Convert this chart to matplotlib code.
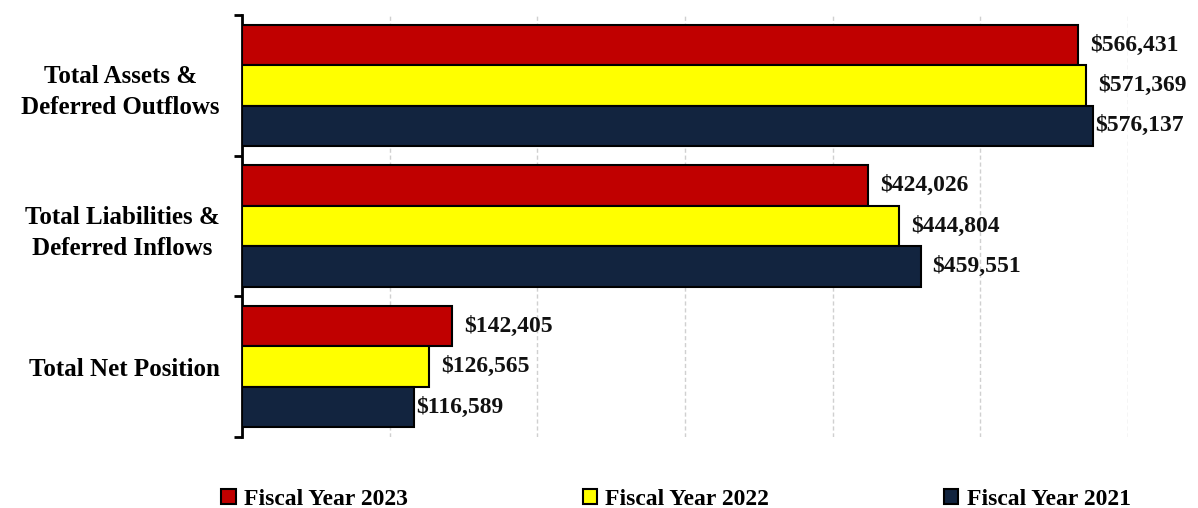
import matplotlib
matplotlib.use("Agg")
import matplotlib.pyplot as plt
import numpy as np

categories = ["Total Assets &\nDeferred Outflows", "Total Liabilities &\nDeferred Inflows", "Total Net Position"]
series_names = ["Fiscal Year 2023", "Fiscal Year 2022", "Fiscal Year 2021"]
fy2023 = [566431, 424026, 142405]
fy2022 = [571369, 444804, 126565]
fy2021 = [576137, 459551, 116589]
colors = ["#C00000", "#FFFF00", "#12243F"]

plt.rcParams['font.family'] = ['Liberation Serif', 'DejaVu Serif']
plt.rcParams['font.weight'] = 'bold'

fig = plt.figure(figsize=(11.98, 5.08), dpi=100)
ax = fig.add_axes([242/1198, 1-437/508, (1128-242)/1198, (437-15)/508])

y = np.arange(len(categories))
h = 0.287
series = [fy2023, fy2022, fy2021]
handles = []
for i, (vals, name, c) in enumerate(zip(series, series_names, colors)):
    b = ax.barh(y + (i - 1) * h, vals, height=h, color=c, edgecolor='black',
                linewidth=1.5, label=name, zorder=3)
    handles.append(b)
    for yy, v in zip(y + (i - 1) * h, vals):
        off = 2 if (i == 2 and v in (576137, 116589)) else 12
        ax.annotate(f"${v:,}", (v, yy), xytext=(off, 0), textcoords='offset pixels',
                    ha='left', va='center', fontsize=17, fontweight='bold', color='#111111')

ax.set_xlim(0, 600000)
ax.set_ylim(2.5, -0.5)
ax.set_xticks(np.arange(0, 600001, 100000))
ax.tick_params(axis='x', length=0, labelbottom=False)
ax.grid(axis='x', color='#d0d0d0', linestyle=(0, (3, 2)), linewidth=1, zorder=0)
ax.grid(axis='y', visible=False)

ax.set_yticks([-0.5, 0.5, 1.5, 2.5])
ax.set_yticklabels([])
ax.tick_params(axis='y', which='major', length=6, width=2, direction='out', color='black')
ax.set_yticks(y, minor=True)
ax.set_yticklabels(categories, minor=True, fontsize=18, fontweight='bold',
                   multialignment='center', linespacing=1.45)
ax.tick_params(axis='y', which='minor', length=0, pad=16)

for s in ['top', 'right', 'bottom']:
    ax.spines[s].set_visible(False)
ax.spines['left'].set_linewidth(2)

leg = fig.legend(handles=handles, labels=series_names, loc='lower left', ncol=3,
                 bbox_to_anchor=(212/1198, -0.022, (1140-212)/1198, 0.06), mode='expand',
                 frameon=False, fontsize=17, handlelength=0.6, handleheight=0.6,
                 handletextpad=0.35, borderaxespad=0)
for t in leg.get_texts():
    t.set_fontweight('bold')

fig.savefig("out.png", dpi=100, facecolor='white')
